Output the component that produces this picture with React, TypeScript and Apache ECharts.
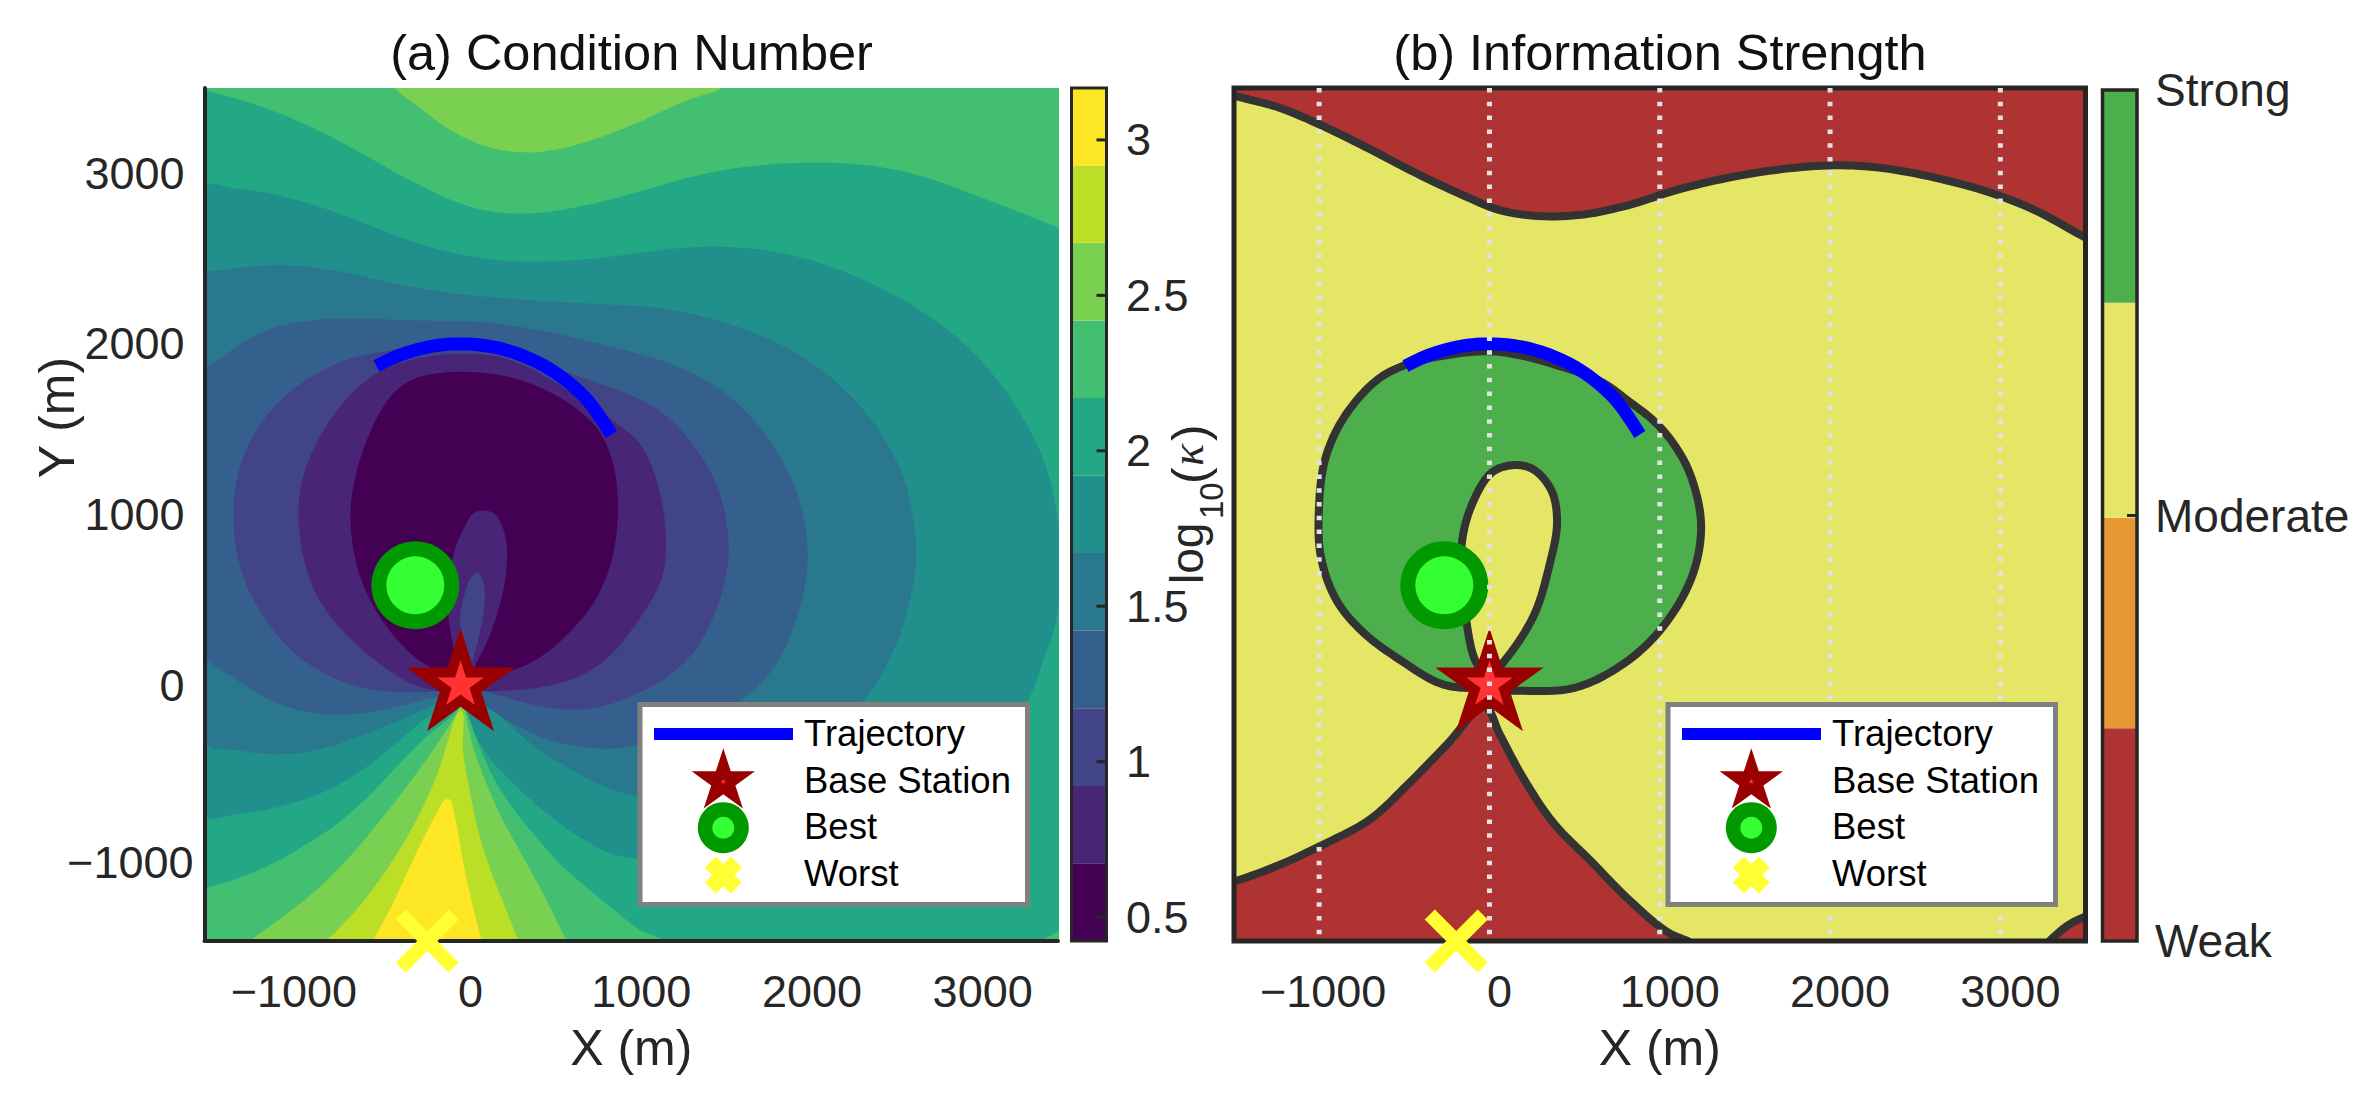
import React, { useEffect, useRef } from "react";
import * as echarts from "echarts";

// ---- data (metres) ----
type P = [number, number];
const xTicks = [-1000, 0, 1000, 2000, 3000];
const kappaTicks = [0.5, 1, 1.5, 2, 2.5, 3];
const kappaEdges = [0.423, 0.673, 0.922, 1.172, 1.421, 1.671, 1.92, 2.17, 2.419, 2.669, 2.918, 3.167];
const strengthEdges = [0, 1, 1.99, 3, 4];
const strengthTicks = [2];
const strengthLabels: Record<number, string> = { 0: "Weak", 2: "Moderate", 4: "Strong" };
const baseStation: P = [0, 0];
const best: P = [-265, 585];
const worst: P = [-195, -1500];
const trajectory: P[] = [[-493, 1870], [-357, 1934], [-162, 1987], [14, 2000], [190, 1982], [346, 1938], [502, 1865], [639, 1769], [756, 1655], [883, 1469]];

const topGE242: P[] = [[-430, 3560], [-376, 3484], [-240, 3386], [-103, 3279], [34, 3201], [190, 3142], [385, 3119], [541, 3133], [736, 3181], [1049, 3299], [1185, 3367], [1341, 3435], [1517, 3488], [1640, 3560], [1900, 3800], [1900, 6000], [-800, 6000], [-800, 3800]];
const topGE217: P[] = [[-1620, 3525], [-1493, 3484], [-1274, 3429], [-1040, 3347], [-806, 3240], [-552, 3103], [-318, 2967], [-83, 2850], [112, 2785], [268, 2762], [502, 2766], [736, 2811], [1049, 2889], [1224, 2947], [1497, 3016], [1770, 3051], [2005, 3064], [2278, 3062], [2551, 3025], [2785, 2961], [3020, 2869], [3254, 2781], [3494, 2684], [3650, 2620], [5000, 2100], [5000, 6000], [-3000, 6000], [-3000, 3800]];
const lowLE192: P[] = [[-1700, 2930], [-1493, 2924], [-1333, 2914], [-1138, 2889], [-903, 2830], [-669, 2752], [-435, 2654], [-201, 2570], [34, 2514], [268, 2483], [502, 2479], [775, 2498], [1049, 2531], [1243, 2563], [1536, 2574], [1809, 2551], [2083, 2488], [2356, 2381], [2590, 2264], [2785, 2137], [2981, 1981], [3137, 1805], [3273, 1610], [3390, 1395], [3459, 1200], [3494, 1005], [3530, 700], [3494, 351], [3430, 204], [3332, -127], [3039, -479], [2551, -772], [1770, -1006], [990, -1025], [892, -996], [717, -908], [522, -772], [346, -615], [190, -459], [92, -323], [14, -147], [-40, -110], [-201, -186], [-357, -323], [-552, -489], [-747, -606], [-942, -684], [-1138, -733], [-1333, -762], [-1493, -772], [-1700, -772]];
const lowLE167: P[] = [[-1700, 2390], [-1493, 2397], [-1352, 2440], [-1177, 2465], [-942, 2463], [-708, 2430], [-474, 2371], [-240, 2323], [-5, 2289], [229, 2270], [502, 2248], [775, 2235], [1049, 2225], [1224, 2205], [1458, 2157], [1692, 2079], [1926, 1981], [2161, 1825], [2356, 1630], [2512, 1415], [2610, 1200], [2658, 985], [2674, 732], [2668, 673], [2629, 458], [2551, 224], [2415, -88], [1966, -479], [1478, -635], [1039, -684], [814, -586], [619, -479], [424, -362], [268, -225], [151, -88], [0, -40], [-162, -127], [-357, -206], [-552, -284], [-747, -362], [-942, -405], [-1138, -410], [-1333, -381], [-1493, -342], [-1700, -300]];
const lowLE142: P[] = [[-1700, 1700], [-1493, 1835], [-1391, 1932], [-1255, 2030], [-1079, 2108], [-864, 2147], [-591, 2153], [-318, 2137], [-45, 2133], [151, 2133], [346, 2102], [580, 2059], [814, 2000], [1049, 1942], [1185, 1903], [1380, 1825], [1575, 1708], [1731, 1552], [1868, 1356], [1966, 1161], [2024, 966], [2040, 732], [2024, 595], [1966, 361], [1868, 126], [1712, -69], [1380, -245], [1039, -362], [912, -375], [717, -371], [522, -332], [326, -245], [151, -127], [0, -40], [-142, -69], [-357, -127], [-552, -166], [-747, -182], [-942, -157], [-1138, -88], [-1333, 38], [-1493, 175], [-1700, 300]];
const lowLE117: P[] = [[-1339, 1005], [-1323, 1181], [-1274, 1356], [-1196, 1512], [-1079, 1659], [-903, 1805], [-708, 1903], [-513, 1952], [-279, 1981], [-5, 1991], [229, 1961], [424, 1913], [619, 1835], [814, 1766], [1049, 1688], [1185, 1610], [1341, 1454], [1458, 1278], [1536, 1103], [1571, 907], [1575, 732], [1556, 634], [1497, 400], [1380, 185], [1224, 29], [990, -69], [814, -147], [619, -153], [424, -118], [229, -69], [151, -30], [34, -20], [-142, -45], [-357, -45], [-552, -30], [-747, 29], [-942, 146], [-1079, 282], [-1196, 458], [-1274, 614], [-1323, 790]];
const lowLE092: P[] = [[-962, 995], [-942, 1181], [-884, 1356], [-786, 1532], [-669, 1688], [-513, 1835], [-318, 1922], [-5, 1952], [229, 1942], [424, 1864], [619, 1727], [717, 1678], [912, 1532], [1049, 1444], [1087, 1356], [1165, 1181], [1204, 985], [1210, 732], [1185, 634], [1126, 478], [990, 322], [912, 185], [756, 68], [580, 0], [385, -30], [170, -40], [34, -30], [-122, -45], [-259, -20], [-435, 87], [-630, 243], [-786, 419], [-884, 575], [-933, 790]];
const lowLE067: P[] = [[-655, 995], [-630, 1181], [-572, 1395], [-493, 1571], [-396, 1727], [-279, 1805], [-123, 1835], [92, 1840], [287, 1815], [502, 1737], [678, 1630], [834, 1493], [902, 1298], [932, 1083], [912, 868], [902, 790], [853, 614], [775, 458], [639, 302], [483, 165], [326, 77], [92, 48], [-83, 58], [-240, 126], [-376, 263], [-493, 419], [-591, 614], [-630, 790]];
const tongueOuter: P[] = [[141, 1024], [73, 1005], [14, 907], [-35, 790], [-74, 536], [-64, 341], [-25, 165], [34, 9], [92, 126], [151, 243], [209, 400], [258, 595], [272, 790], [258, 888], [209, 995]];
const tongueInner: P[] = [[102, 657], [63, 634], [24, 536], [-5, 380], [14, 224], [63, 48], [73, 146], [112, 302], [141, 478], [135, 595]];
const wedgeGE217: P[] = [[4, -50], [-25, -147], [-201, -303], [-357, -459], [-552, -664], [-747, -830], [-942, -957], [-1138, -1064], [-1333, -1142], [-1493, -1191], [-1700, -1240], [-1700, -1700], [1240, -1700], [1185, -1500], [1049, -1435], [912, -1328], [756, -1201], [580, -1045], [424, -869], [287, -694], [190, -537], [112, -362], [34, -147]];
const cornerGE217: P[] = [[3380, -1530], [3410, -1498], [3494, -1445], [3560, -1400], [3650, -1600]];
const wedgeGE242: P[] = [[4, -70], [-15, -147], [-123, -323], [-259, -518], [-454, -772], [-650, -1006], [-845, -1201], [-1040, -1357], [-1235, -1498], [-1330, -1570], [-1330, -1700], [660, -1700], [650, -1570], [619, -1498], [483, -1221], [365, -1006], [248, -791], [151, -576], [73, -362], [24, -147]];
const wedgeGE267: P[] = [[-5, -147], [-142, -537], [-279, -830], [-435, -1084], [-611, -1318], [-786, -1498], [-870, -1570], [-870, -1700], [370, -1700], [360, -1570], [336, -1498], [268, -1318], [190, -1123], [112, -889], [53, -615], [14, -381], [14, -166]];
const wedgeGE292: P[] = [[-550, -1570], [-513, -1498], [-396, -1279], [-279, -1025], [-162, -791], [-93, -674], [-64, -670], [-25, -811], [24, -1084], [73, -1299], [122, -1498], [135, -1570], [135, -1700], [-550, -1700]];

const weakTop: P[] = [[-1620, 3500], [-1498, 3453], [-1238, 3391], [-970, 3275], [-701, 3142], [-432, 3000], [-163, 2874], [61, 2778], [285, 2745], [554, 2754], [823, 2812], [1092, 2903], [1405, 2977], [1719, 3027], [2033, 3051], [2302, 3035], [2615, 2977], [2929, 2894], [3198, 2791], [3498, 2625], [3700, 2500], [5000, 2000], [5000, 6000], [-3000, 6000], [-3000, 3800]];
const weakBottom: P[] = [[-1700, -1200], [-1498, -1151], [-1238, -1056], [-970, -932], [-701, -787], [-477, -580], [-253, -352], [-29, -125], [61, -290], [195, -539], [375, -807], [599, -1035], [823, -1262], [1047, -1449], [1181, -1510], [1300, -1600], [1300, -1800], [-1700, -1800]];
const weakCorner: P[] = [[3200, -1600], [3287, -1502], [3399, -1407], [3498, -1358], [3700, -1300], [3700, -1700]];
const strongRing: P[] = [[-275, -2], [-522, 144], [-746, 309], [-902, 495], [-992, 744], [-1005, 992], [-970, 1323], [-858, 1571], [-656, 1798], [-477, 1885], [-253, 1935], [0, 1960], [198, 1930], [315, 1900], [590, 1810], [690, 1760], [805, 1673], [960, 1556], [1080, 1420], [1181, 1240], [1248, 950], [1204, 661], [1047, 371], [823, 144], [509, -22], [151, -34], [-29, -22]];
const moderateHole: P[] = [[151, 1290], [16, 1248], [-96, 1074], [-163, 826], [-141, 413], [-73, 123], [0, 60], [106, 165], [263, 413], [352, 702], [397, 950], [366, 1137], [263, 1261]];

// ---- styles ----
const viridis = ["#440154", "#482576", "#414487", "#35608D", "#2A788E", "#21908C", "#22A884", "#43BF71", "#7AD151", "#BBDF27", "#FDE725"];
const strengthColors = ["#B03333", "#E69933", "#E6E666", "#4CAF4C"];
const FONT = "Liberation Sans";
const INK = "#262626";
const EDGE = "#333333";

const g0 = { left: 204.5, top: 88, width: 853.5, height: 853 };
const g1 = { left: 1071.5, top: 88, width: 35, height: 853 };
const g2 = { left: 1234, top: 88, width: 851.5, height: 853 };
const g3 = { left: 2102.5, top: 90, width: 34.5, height: 851 };

// centripetal Catmull-Rom through the given pixel points
const spline = (pts: number[][], closed: boolean, soft: number): number[][] => {
  const n = pts.length;
  const at = (a: number[][], i: number) => (closed ? a[(i + n) % n] : a[Math.max(0, Math.min(n - 1, i))]);
  const src = soft
    ? pts.map((p, i) => {
        const a = at(pts, i - 1);
        const b = at(pts, i + 1);
        return [p[0] * (1 - 2 * soft) + (a[0] + b[0]) * soft, p[1] * (1 - 2 * soft) + (a[1] + b[1]) * soft];
      })
    : pts;
  const out: number[][] = [];
  const segs = closed ? n : n - 1;
  const lerp = (a: number[], b: number[], ta: number, tb: number, t: number) => {
    const k = tb === ta ? 0 : (t - ta) / (tb - ta);
    return [a[0] + (b[0] - a[0]) * k, a[1] + (b[1] - a[1]) * k];
  };
  for (let i = 0; i < segs; i++) {
    const p0 = at(src, i - 1), p1 = at(src, i), p2 = at(src, i + 1), p3 = at(src, i + 2);
    const d = (a: number[], b: number[]) => Math.max(1e-3, Math.sqrt(Math.hypot(a[0] - b[0], a[1] - b[1])));
    const t0 = 0, t1 = t0 + d(p0, p1), t2 = t1 + d(p1, p2), t3 = t2 + d(p2, p3);
    for (let s = 0; s < 8; s++) {
      const t = t1 + ((t2 - t1) * s) / 8;
      const a1 = lerp(p0, p1, t0, t1, t), a2 = lerp(p1, p2, t1, t2, t), a3 = lerp(p2, p3, t2, t3, t);
      const b1 = lerp(a1, a2, t0, t2, t), b2 = lerp(a2, a3, t1, t3, t);
      out.push(lerp(b1, b2, t1, t2, t));
    }
  }
  if (!closed) out.push(src[n - 1]);
  return out;
};

const starPts = (cx: number, cy: number, R: number): number[][] => {
  const pts: number[][] = [];
  for (let i = 0; i < 10; i++) {
    const r = i % 2 === 0 ? R : R * 0.382;
    const a = -Math.PI / 2 + (i * Math.PI) / 5;
    pts.push([cx + r * Math.cos(a), cy + r * Math.sin(a)]);
  }
  return pts;
};
const starSymbol = "path://" + starPts(0, 0, 100).map((p, i) => (i ? "L" : "M") + p[0].toFixed(2) + " " + p[1].toFixed(2)).join("") + "Z";
const crossSymbol = "path://M16 0L50 34L84 0L100 16L66 50L100 84L84 100L50 66L16 100L0 84L34 50L0 16Z";
const starScatter = (R: number) => ({ symbol: starSymbol, symbolSize: [1.902 * R, 1.809 * R], symbolOffset: [0, -0.0955 * R] });

type Layer = { pts: P[]; fill: string; stroke?: string; soft?: number };
const fieldSeries = (idx: number, layers: Layer[]) => ({
  type: "custom",
  xAxisIndex: idx,
  yAxisIndex: idx,
  clip: true,
  silent: true,
  z: 2,
  data: layers.map((_, i) => [i, 0]),
  renderItem: (params: any, api: any) => {
    const l = layers[params.dataIndex];
    const px = l.pts.map((p) => api.coord(p));
    return {
      type: "polygon",
      shape: { points: l.pts.length > 4 ? spline(px, true, l.soft || 0) : px },
      style: { fill: l.fill, stroke: l.stroke || null, lineWidth: l.stroke ? 8 : 0, lineJoin: "round" },
    };
  },
});
const bandSeries = (idx: number, edges: number[], colors: string[]) => ({
  type: "custom",
  xAxisIndex: idx,
  yAxisIndex: idx,
  clip: true,
  silent: true,
  z: 2,
  data: colors.map((_, i) => [0, edges[i]]),
  renderItem: (params: any, api: any) => {
    const i = params.dataIndex;
    const a = api.coord([0, edges[i + 1]]);
    const b = api.coord([1, edges[i]]);
    return { type: "rect", shape: { x: a[0], y: a[1], width: b[0] - a[0], height: b[1] - a[1] }, style: { fill: colors[i] } };
  },
});
const barTickSeries = (idx: number, ticks: number[]) => ({
  type: "custom",
  xAxisIndex: idx,
  yAxisIndex: idx,
  clip: false,
  silent: true,
  z: 8,
  data: ticks.map((t) => [1, t]),
  renderItem: (params: any, api: any) => {
    const a = api.coord([1, ticks[params.dataIndex]]);
    return { type: "line", shape: { x1: a[0] - 10, y1: a[1], x2: a[0], y2: a[1] }, style: { stroke: INK, lineWidth: 3, fill: null } };
  },
});
const dottedSeries = (idx: number) => ({
  type: "custom",
  xAxisIndex: idx,
  yAxisIndex: idx,
  clip: true,
  silent: true,
  z: 11,
  data: xTicks.map((t) => [t, 3500]),
  renderItem: (params: any, api: any) => {
    const a = api.coord([xTicks[params.dataIndex], 3500]);
    const b = api.coord([xTicks[params.dataIndex], -1500]);
    return { type: "line", shape: { x1: a[0], y1: a[1], x2: b[0], y2: b[1] }, style: { stroke: "#E2E2E2", lineWidth: 5, lineDash: [4.5, 9.3], fill: null } };
  },
});
const markerSeries = (idx: number) => {
  const base = { type: "scatter", xAxisIndex: idx, yAxisIndex: idx, clip: false, silent: true, z: 10 };
  return [
    {
      type: "custom",
      xAxisIndex: idx,
      yAxisIndex: idx,
      clip: false,
      silent: true,
      z: 10,
      data: [trajectory[0]],
      renderItem: (_: any, api: any) => ({
        type: "polyline",
        shape: { points: spline(trajectory.map((p) => api.coord(p)), false, 0) },
        style: { stroke: "#0000FF", lineWidth: 13, lineCap: "butt", lineJoin: "round", fill: null },
      }),
    },
    { ...base, data: [baseStation], ...starScatter(57), itemStyle: { color: "#990000", opacity: 1 } },
    { ...base, data: [baseStation], ...starScatter(24.5), itemStyle: { color: "#FF3333", opacity: 1 } },
    { ...base, data: [best], symbol: "circle", symbolSize: 88, itemStyle: { color: "#009900", opacity: 1 } },
    { ...base, data: [best], symbol: "circle", symbolSize: 58, itemStyle: { color: "#33FF33", opacity: 1 } },
    { ...base, data: [worst], symbol: crossSymbol, symbolSize: 63, itemStyle: { color: "#FFFF33", opacity: 1 } },
  ];
};
const legendEls = (dx: number) => {
  const txt = (text: string, y: number) => ({ type: "text", z: 31, style: { text, x: 804 + dx, y, fontSize: 36.5, fontFamily: FONT, fill: "#000", verticalAlign: "middle", align: "left" } });
  return [
    { type: "rect", z: 30, shape: { x: 640 + dx, y: 704.5, width: 387.5, height: 200 }, style: { fill: "#fff", stroke: "#808080", lineWidth: 5 } },
    { type: "rect", z: 31, shape: { x: 654 + dx, y: 728, width: 139, height: 12 }, style: { fill: "#0000FF" } },
    { type: "polygon", z: 31, shape: { points: starPts(723.3 + dx, 781.6, 33.3) }, style: { fill: "#990000" } },
    { type: "polygon", z: 31, shape: { points: starPts(723.3 + dx, 781.6, 3) }, style: { fill: "#FF3333" } },
    { type: "circle", z: 31, shape: { cx: 723.3 + dx, cy: 827.7, r: 25.5 }, style: { fill: "#009900" } },
    { type: "circle", z: 31, shape: { cx: 723.3 + dx, cy: 827.7, r: 11 }, style: { fill: "#33FF33" } },
    { type: "polygon", z: 31, shape: { points: [[30, 0], [50, 20], [70, 0], [100, 30], [80, 50], [100, 70], [70, 100], [50, 80], [30, 100], [0, 70], [20, 50], [0, 30]].map((p) => [704.8 + dx + p[0] * 0.37, 856.5 + p[1] * 0.37]) }, style: { fill: "#FFFF33" } },
    txt("Trajectory", 733),
    txt("Base Station", 780),
    txt("Best", 826),
    txt("Worst", 873),
  ];
};
const kappaLabel = () => {
  const part = (text: string, x: number, y: number, fontSize: number, fontFamily: string, fontStyle = "normal") => ({
    type: "text",
    z: 20,
    silent: true,
    x,
    y,
    rotation: Math.PI / 2,
    style: { text, x: 0, y: 0, fontSize, fontFamily, fontStyle, fill: INK, align: "left", verticalAlign: "middle" },
  });
  return [
    part("log", 1187, 584, 46, FONT),
    part("10", 1211.5, 519, 33, FONT),
    part("(", 1190, 484, 50, FONT),
    part("\u03BA", 1187, 466, 46, "Liberation Serif", "italic"),
    part(")", 1190, 441, 50, FONT),
  ];
};
const tickText = { fontSize: 45, fontFamily: FONT, color: INK };
const xAxisFor = (idx: number, framed: boolean) => ({
  type: "value",
  gridIndex: idx,
  min: -1500,
  max: 3500,
  axisLabel: {
    customValues: xTicks,
    ...tickText,
    margin: 28,
    formatter: (v: number) => (v < 0 ? `{n|${String(v).replace("-", "\u2212")}}` : `{p|${v}}`),
    rich: { n: { ...tickText, padding: [0, 0, 0, 8] }, p: { ...tickText, padding: [0, 0, 0, 20] } },
  },
  axisTick: { show: false },
  axisLine: { show: !framed, onZero: false, lineStyle: { color: INK, width: 4 } },
  splitLine: { show: false },
  name: "X (m)",
  nameLocation: "middle",
  nameGap: 82,
  nameTextStyle: { fontSize: 50, fontFamily: FONT, color: INK },
  z: 5,
});

const option: any = {
  animation: false,
  backgroundColor: "#ffffff",
  title: [
    { text: "(a) Condition Number", left: 626.5, top: 22, textAlign: "center", textStyle: { fontSize: 50.5, fontWeight: "normal", fontFamily: FONT, color: "#111" } },
    { text: "(b) Information Strength", left: 1655, top: 22, textAlign: "center", textStyle: { fontSize: 50.5, fontWeight: "normal", fontFamily: FONT, color: "#111" } },
  ],
  grid: [g0, g1, g2, g3].map((g) => ({ ...g, containLabel: false })),
  xAxis: [
    xAxisFor(0, false),
    { type: "value", gridIndex: 1, min: 0, max: 1, show: false },
    xAxisFor(2, true),
    { type: "value", gridIndex: 3, min: 0, max: 1, show: false },
  ],
  yAxis: [
    {
      type: "value",
      gridIndex: 0,
      min: -1500,
      max: 3500,
      axisLabel: {
        customValues: xTicks,
        ...tickText,
        margin: 11,
        formatter: (v: number) => (v < 0 ? `{n|${String(v).replace("-", "\u2212")}}` : `{p|${v}}`),
        rich: { n: { ...tickText, padding: [14, 0, 0, 0] }, p: { ...tickText, padding: [0, 9, 0, 0] } },
      },
      axisTick: { show: false },
      axisLine: { show: true, onZero: false, lineStyle: { color: INK, width: 4 } },
      splitLine: { show: false },
      name: "Y (m)",
      nameLocation: "middle",
      nameRotate: 90,
      nameGap: 123,
      nameMoveOverlap: false,
      nameTextStyle: { fontSize: 50, fontFamily: FONT, color: INK, padding: [0, 0, 0, 194] },
      z: 5,
    },
    {
      type: "value",
      gridIndex: 1,
      position: "right",
      min: 0.423,
      max: 3.167,
      axisLabel: { customValues: kappaTicks, ...tickText, margin: 19.5 },
      axisTick: { show: false },
      axisLine: { show: false },
      splitLine: { show: false },
    },
    {
      type: "value",
      gridIndex: 2,
      min: -1500,
      max: 3500,
      axisLabel: { show: false },
      axisTick: { show: false },
      axisLine: { show: false },
      splitLine: { show: false },
    },
    {
      type: "value",
      gridIndex: 3,
      position: "right",
      min: 0,
      max: 4,
      interval: 2,
      axisLabel: { fontSize: 46, fontFamily: FONT, color: INK, margin: 18, formatter: (v: number) => strengthLabels[v] },
      axisTick: { show: false },
      axisLine: { show: false },
      splitLine: { show: false },
    },
  ],
  series: [
    fieldSeries(0, [
      { pts: [[-1700, -1800], [3800, -1800], [3800, 3800], [-1700, 3800]], fill: viridis[6] },
      { pts: lowLE192, fill: viridis[5], soft: 0.15 },
      { pts: topGE217, fill: viridis[7], soft: 0.15 },
      { pts: topGE242, fill: viridis[8], soft: 0.1 },
      { pts: cornerGE217, fill: viridis[7] },
      { pts: wedgeGE217, fill: viridis[7] },
      { pts: wedgeGE242, fill: viridis[8] },
      { pts: wedgeGE267, fill: viridis[9] },
      { pts: wedgeGE292, fill: viridis[10] },
      { pts: lowLE167, fill: viridis[4], soft: 0.2 },
      { pts: lowLE142, fill: viridis[3], soft: 0.2 },
      { pts: lowLE117, fill: viridis[2], soft: 0.25 },
      { pts: lowLE092, fill: viridis[1], soft: 0.25 },
      { pts: lowLE067, fill: viridis[0], soft: 0.2 },
      { pts: tongueOuter, fill: viridis[1] },
      { pts: tongueInner, fill: viridis[2] },
    ]),
    bandSeries(1, kappaEdges, viridis),
    barTickSeries(1, kappaTicks),
    fieldSeries(2, [
      { pts: [[-1700, -1800], [3800, -1800], [3800, 3800], [-1700, 3800]], fill: strengthColors[2] },
      { pts: weakTop, fill: strengthColors[0], stroke: EDGE, soft: 0.1 },
      { pts: weakBottom, fill: strengthColors[0], stroke: EDGE },
      { pts: weakCorner, fill: strengthColors[0], stroke: EDGE },
      { pts: strongRing, fill: strengthColors[3], stroke: EDGE, soft: 0.05 },
      { pts: moderateHole, fill: strengthColors[2], stroke: EDGE },
    ]),
    bandSeries(3, strengthEdges, strengthColors),
    barTickSeries(3, strengthTicks),
    dottedSeries(2),
    ...markerSeries(0),
    ...markerSeries(2),
  ],
  graphic: {
    elements: [
      { type: "rect", z: 9, silent: true, shape: { x: g2.left, y: g2.top, width: g2.width, height: g2.height }, style: { fill: "none", stroke: INK, lineWidth: 5 } },
      { type: "rect", z: 9, silent: true, shape: { x: g1.left, y: g1.top, width: g1.width, height: g1.height }, style: { fill: "none", stroke: INK, lineWidth: 3 } },
      { type: "rect", z: 9, silent: true, shape: { x: g3.left, y: g3.top, width: g3.width, height: g3.height }, style: { fill: "none", stroke: INK, lineWidth: 3.5 } },
      ...kappaLabel(),
      ...legendEls(0),
      ...legendEls(1028),
    ],
  },
};

export default function App() {
  const ref = useRef<HTMLDivElement>(null);
  useEffect(() => {
    const chart = echarts.init(ref.current!, undefined, { renderer: "svg" });
    chart.setOption(option);
    return () => chart.dispose();
  }, []);
  return <div ref={ref} style={{ position: "absolute", left: 0, top: 0, width: 2377, height: 1108 }} />;
}
